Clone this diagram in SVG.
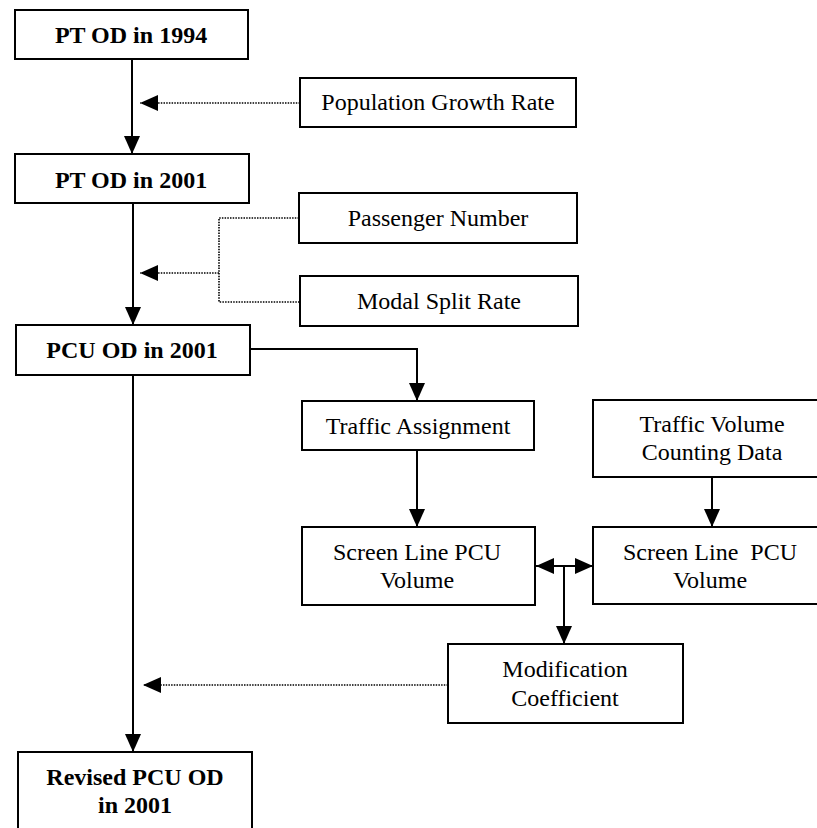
<svg xmlns="http://www.w3.org/2000/svg" width="817" height="828" viewBox="0 0 817 828">
<style>
.box{fill:#fff;stroke:#000;stroke-width:2}
.t{font-family:"Liberation Serif","Times New Roman",serif;font-size:24px;fill:#000;text-anchor:middle;white-space:pre}
.b{font-weight:bold}
.c{fill:none;stroke:#000;stroke-width:2}
.d{fill:none;stroke:#000;stroke-width:1.6;stroke-dasharray:1.5 1.2}
</style>
<defs>
<marker id="ah" viewBox="0 0 18 16" refX="18" refY="8" markerWidth="18" markerHeight="16" markerUnits="userSpaceOnUse" orient="auto-start-reverse">
<path d="M0,0 L18,8 L0,16 Z" fill="#000"/>
</marker>
</defs>
<rect width="817" height="828" fill="#fff"/>
<g id="connectors">
<path class="c" d="M132,59 V154" marker-end="url(#ah)"/>
<path class="c" d="M133,203 V325" marker-end="url(#ah)"/>
<path class="c" d="M133,375 V752" marker-end="url(#ah)"/>
<path class="d" d="M300,103 H140" marker-end="url(#ah)"/>
<path class="d" d="M299,218 H219 V302 H300"/>
<path class="d" d="M219,273 H140" marker-end="url(#ah)"/>
<path class="d" d="M448,685 H143" marker-end="url(#ah)"/>
<path class="c" d="M250,349 H417 V401" marker-end="url(#ah)"/>
<path class="c" d="M417,450 V527" marker-end="url(#ah)"/>
<path class="c" d="M712,477 V527" marker-end="url(#ah)"/>
<path class="c" d="M536,566 H593" marker-start="url(#ah)" marker-end="url(#ah)"/>
<path class="c" d="M564,566 V644" marker-end="url(#ah)"/>
</g>
<g id="pt1994"><rect class="box" x="15" y="10" width="233" height="49"/><text class="t b" x="131" y="43">PT OD in 1994</text></g>
<g id="popgrowth"><rect class="box" x="300" y="78" width="276" height="49"/><text class="t" x="438" y="110">Population Growth Rate</text></g>
<g id="pt2001"><rect class="box" x="15" y="154" width="234" height="49"/><text class="t b" x="131" y="188">PT OD in 2001</text></g>
<g id="passenger"><rect class="box" x="299" y="193" width="278" height="50"/><text class="t" x="438" y="226">Passenger Number</text></g>
<g id="modal"><rect class="box" x="300" y="276" width="278" height="50"/><text class="t" x="439" y="309">Modal Split Rate</text></g>
<g id="pcu2001"><rect class="box" x="16" y="325" width="234" height="50"/><text class="t b" x="132" y="358">PCU OD in 2001</text></g>
<g id="assign"><rect class="box" x="302" y="401" width="232" height="49"/><text class="t" x="418" y="434">Traffic Assignment</text></g>
<g id="tvc"><rect class="box" x="593" y="400" width="240" height="77"/><text class="t" x="712" y="432">Traffic Volume</text><text class="t" x="712" y="460">Counting Data</text></g>
<g id="slleft"><rect class="box" x="302" y="527" width="233" height="78"/><text class="t" x="417" y="560">Screen Line PCU</text><text class="t" x="417" y="588">Volume</text></g>
<g id="slright"><rect class="box" x="593" y="527" width="240" height="77"/><text class="t" x="710" y="560" xml:space="preserve">Screen Line  PCU</text><text class="t" x="710" y="588">Volume</text></g>
<g id="modcoef"><rect class="box" x="448" y="644" width="235" height="79"/><text class="t" x="565" y="677">Modification</text><text class="t" x="565" y="706">Coefficient</text></g>
<g id="revised"><rect class="box" x="18" y="752" width="234" height="90"/><text class="t b" x="135" y="785">Revised PCU OD</text><text class="t b" x="135" y="813">in 2001</text></g>
</svg>
